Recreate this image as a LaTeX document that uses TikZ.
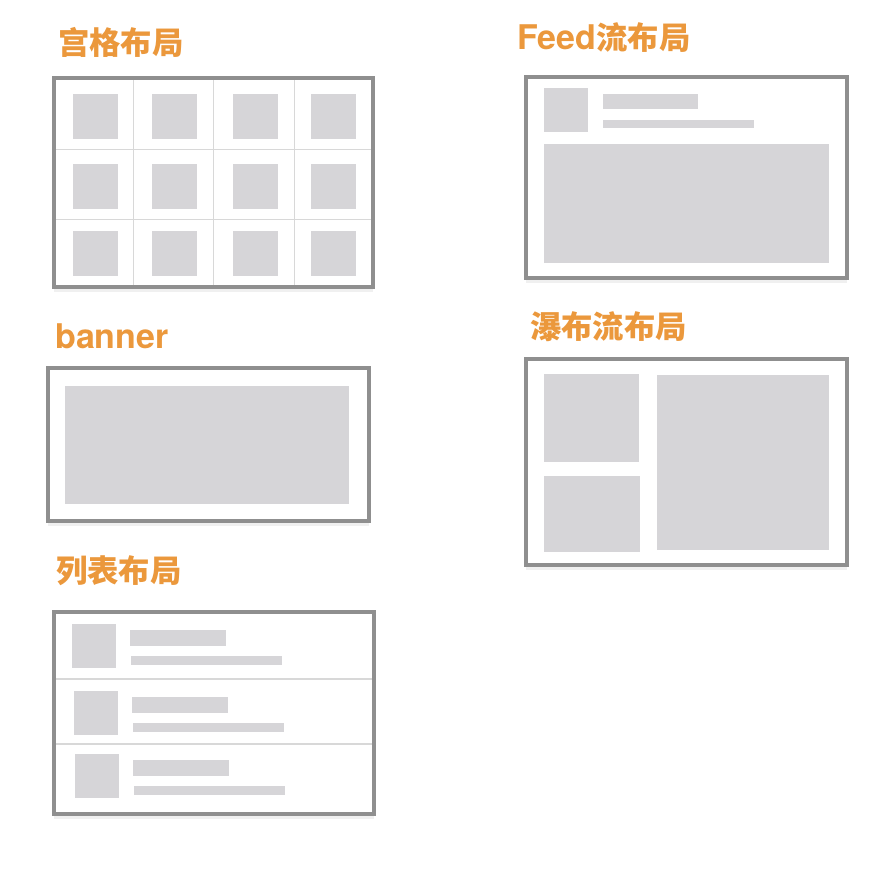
\documentclass[tikz,border=0pt]{standalone}
\usepackage{fontspec}
\setmainfont{TeX Gyre Heros}
\newfontfamily\cjk{Noto Sans CJK SC}
\newcommand\latinbig{\normalfont\bfseries\fontsize{25.5}{30}\selectfont}
\usetikzlibrary{shadows}

\definecolor{titleorange}{HTML}{EB983C}
\definecolor{framegray}{HTML}{8F8F8F}
\definecolor{boxgray}{HTML}{D6D5D8}
\definecolor{rulegray}{HTML}{D8D8D8}

\tikzset{
	panel/.style={draw=framegray, line width=2.8pt, fill=white,
		drop shadow={shadow xshift=0pt, shadow yshift=-4pt, opacity=.06, fill=black}},
	block/.style={fill=boxgray},
	rule/.style={draw=rulegray, line width=0.5pt},
	title/.style={anchor=west, inner sep=0pt, text=titleorange, font=\cjk\bfseries\fontsize{23.5}{28}\selectfont},
	latin/.style={font=\latinbig}
}

\begin{document}
\begin{tikzpicture}[x=0.75pt, y=-0.75pt]
	\useasboundingbox[fill=white] (0,0) rectangle (870,868);

	\node[title] (gridT) at (58,42) {宫格布局};
	\node[title] (feedT) at (517,37.5) {{\latinbig Feed}流布局};
	\node[title, latin] (bannerT) at (55,336.5) {banner};
	\node[title] (listT) at (56,571) {列表布局};
	\node[title] (fallT) at (530,327) {瀑布流布局};

	\path[panel] (54,78) rectangle (373,287);
	\foreach \gx in {133,213,294}
		\draw[rule] (\gx,80) -- (\gx,285);
	\foreach \gy in {149,219}
		\draw[rule] (56,\gy) -- (371,\gy);
	\foreach \cx in {95,174,255,333}
		\foreach \cy in {116,186,253}
			\fill[block] (\cx-22.5,\cy-22.5) rectangle ++(45,45);
	\draw[draw=framegray, line width=2.8pt] (54,78) rectangle (373,287);

	\path[panel] (526,77) rectangle (847,278);
	\fill[block] (544,88) rectangle (588,132);
	\fill[block] (603,94) rectangle (698,109);
	\fill[block] (603,120) rectangle (754,128);
	\fill[block] (544,144) rectangle (829,263);

	\path[panel] (48,368) rectangle (369,521);
	\fill[block] (65,386) rectangle (349,504);

	\path[panel] (54,612) rectangle (374,814);
	\foreach \ry in {679,744}
		\draw[rule, line width=1.2pt] (56,\ry) -- (372,\ry);
	\foreach \ry/\dx in {624/0,691/1.5,754/3}{
		\fill[block] (72+\dx,\ry) rectangle ++(44,44);
		\fill[block] (130+\dx,\ry+6) rectangle ++(96,16);
		\fill[block] (131+\dx,\ry+32) rectangle ++(151,9);
	}

	\path[panel] (526,359) rectangle (847,565);
	\fill[block] (544,374) rectangle (639,462);
	\fill[block] (544,476) rectangle (640,552);
	\fill[block] (657,375) rectangle (829,550);
\end{tikzpicture}
\end{document}
